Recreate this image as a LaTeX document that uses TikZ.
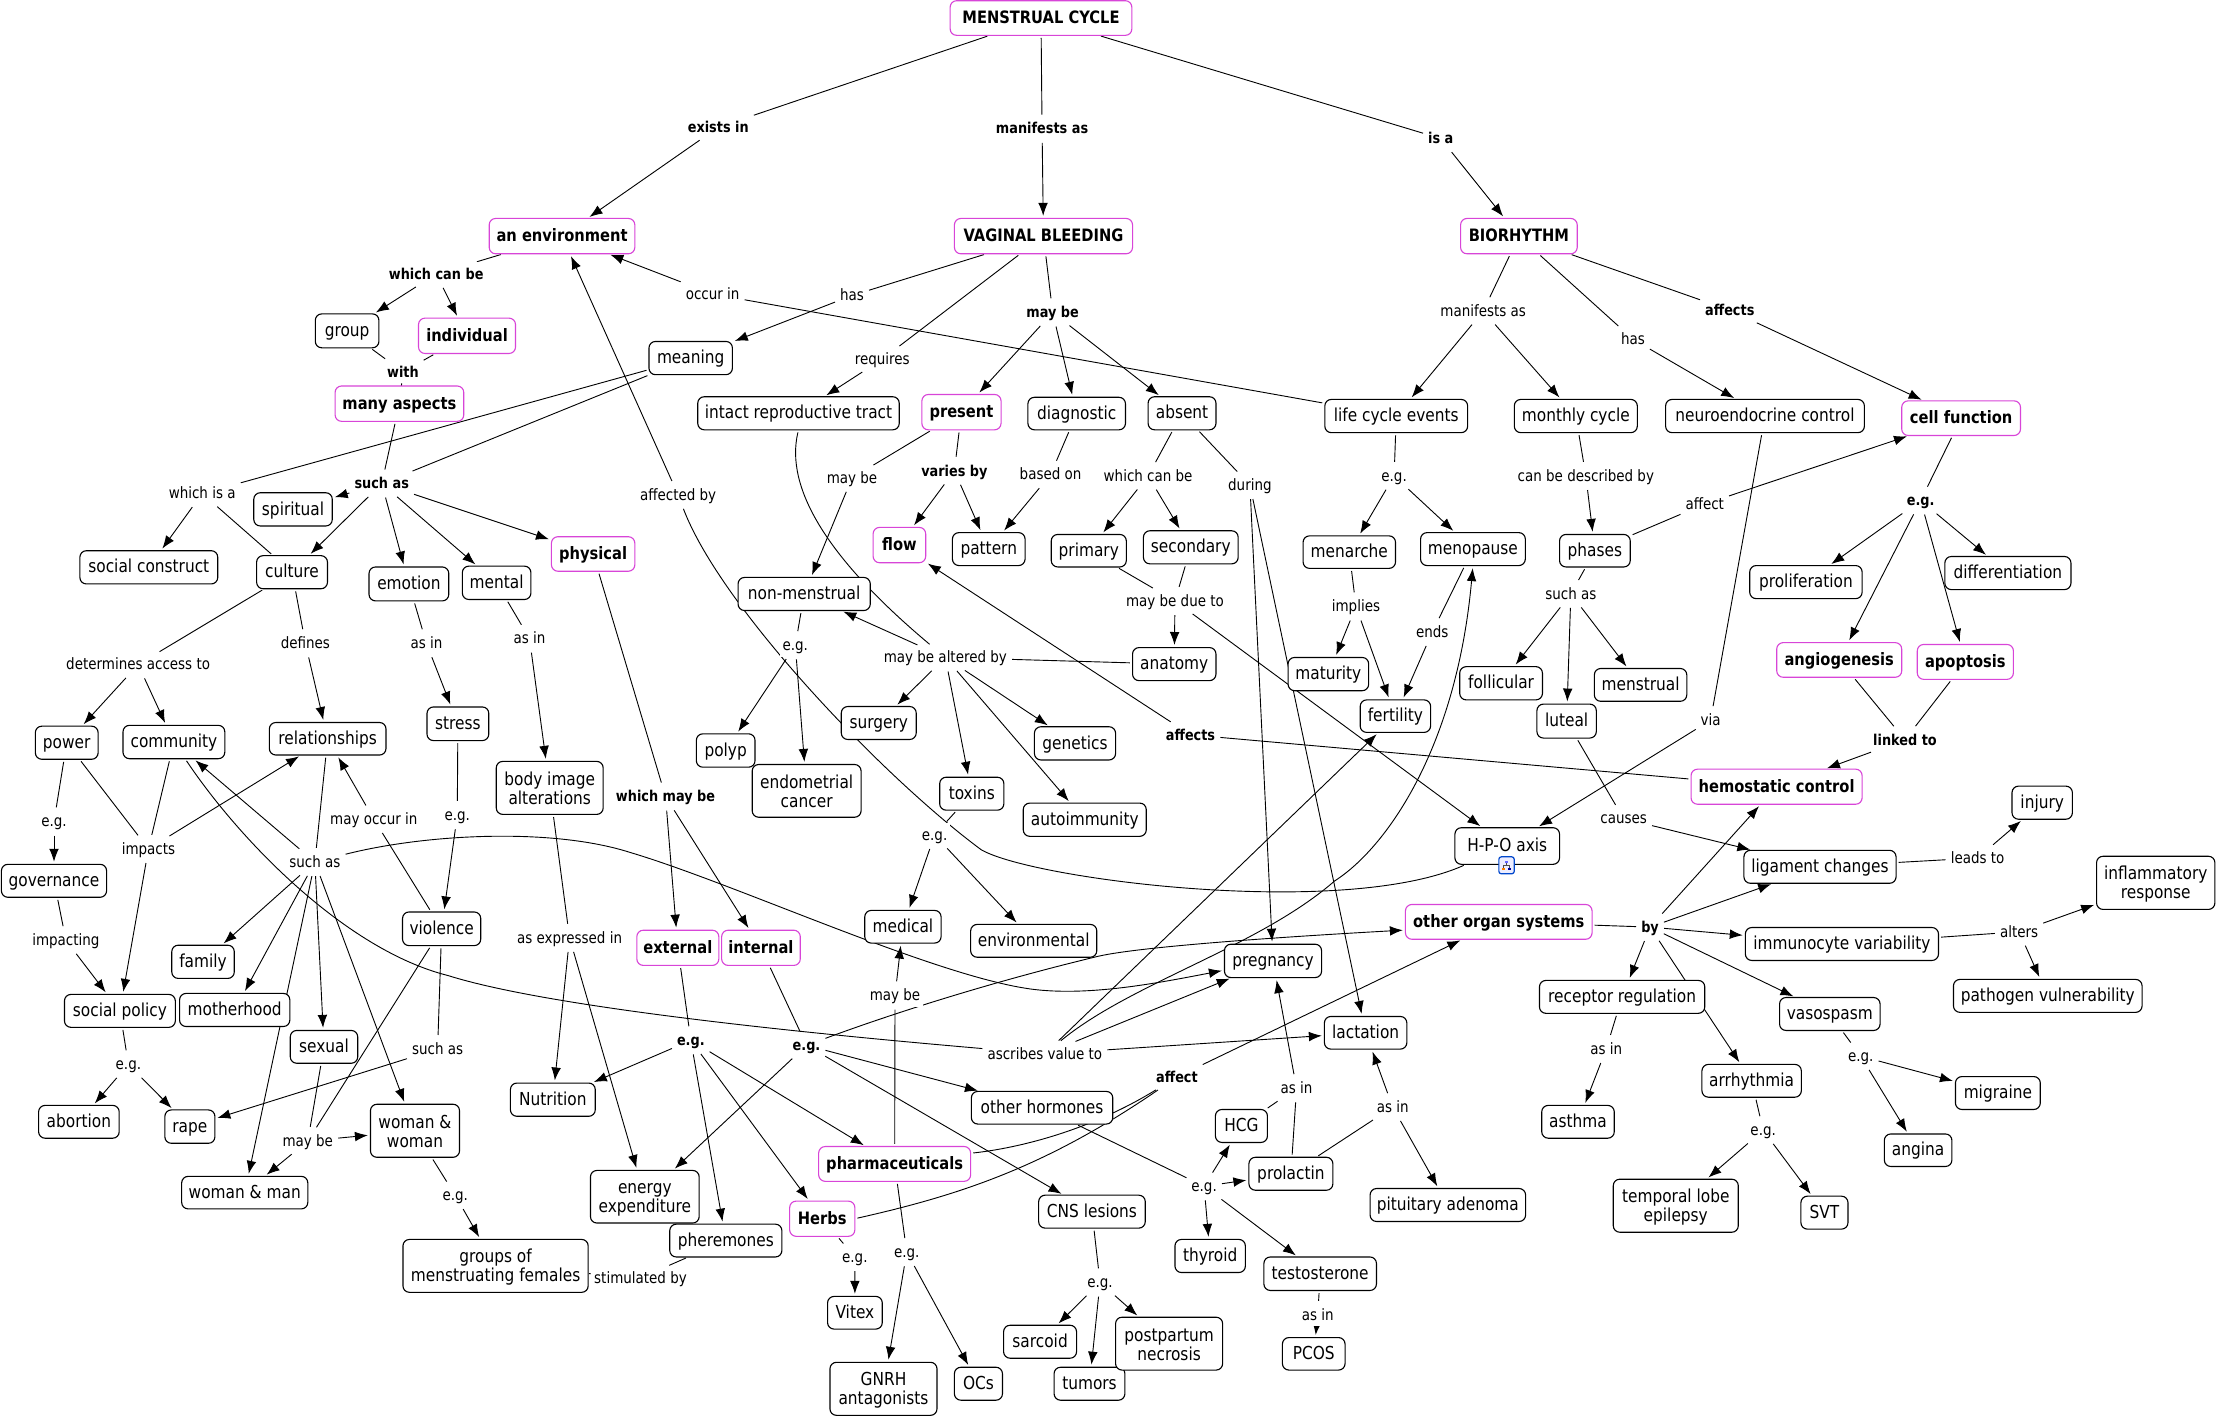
\documentclass[tikz,border=0pt]{standalone}
\usepackage{fontspec}
\setmainfont[FakeStretch=0.86]{DejaVu Sans}
\usetikzlibrary{arrows.meta,backgrounds,calc}
\definecolor{pinkb}{HTML}{D845D8}
\tikzset{
  x=0.7pt,y=-0.7pt,
  cpt/.style={draw=black,line width=0.55pt,fill=white,rounded corners=3.2pt,inner sep=0pt,outer sep=0pt,align=center,font=\fontsize{8.85}{9.4}\selectfont},
  pcpt/.style={cpt,draw=pinkb,font=\fontsize{8.45}{9.4}\selectfont\bfseries},
  lab/.style={fill=white,inner sep=1.3pt,outer sep=0pt,font=\fontsize{7.75}{9}\selectfont},
  blab/.style={lab,font=\fontsize{7.4}{9}\selectfont\bfseries},
  lnk/.style={draw=black,line width=0.45pt,shorten >=1.3pt,shorten <=1.3pt},
  arw/.style={lnk,-{Latex[length=6.4pt,width=4.8pt]}}
}
\newcommand\cb[6]{\node[cpt,minimum width={(#3-#2)*0.7pt},minimum height={(#5-#4)*0.7pt}] (#1) at ({(#2+#3)/2},{(#4+#5)/2}) {\rule[-2pt]{0pt}{9.6pt}#6};}
\newcommand\pb[6]{\node[pcpt,minimum width={(#3-#2)*0.7pt},minimum height={(#5-#4)*0.7pt}] (#1) at ({(#2+#3)/2},{(#4+#5)/2}) {\rule[-2pt]{0pt}{9.6pt}#6};}
\newcommand\lb[4]{\node[lab] (#1) at (#2,#3) {\rule[-1.8pt]{0pt}{8.8pt}#4};}
\newcommand\bl[4]{\node[blab] (#1) at (#2,#3) {\rule[-1.8pt]{0pt}{8.8pt}#4};}
\newcommand\ed[2]{\draw[lnk] (#1) -- (#2);}
\newcommand\ar[2]{\draw[arw] (#1) -- (#2);}
\begin{document}
\begin{tikzpicture}
\useasboundingbox (0,0) rectangle (1568,1003);
% pink concepts
\pb{menstrual}{672}{800.5}{0.5}{25}{MENSTRUAL CYCLE}
\pb{env}{346}{449}{154.5}{179.5}{an environment}
\pb{vaginal}{675}{801}{154.5}{179.5}{VAGINAL BLEEDING}
\pb{bio}{1033}{1115.5}{154.5}{179.5}{BIORHYTHM}
\pb{individual}{296}{364.6}{225}{250}{individual}
\pb{many}{237}{328}{273}{298}{many aspects}
\pb{present}{652}{708}{279}{304}{present}
\pb{cell}{1345}{1429}{283.5}{308}{cell function}
\pb{physical}{390}{449}{379.6}{404}{physical}
\pb{flow}{617.5}{654.7}{373}{398}{flow}
\pb{angio}{1256.6}{1345}{454.5}{479}{angiogenesis}
\pb{apop}{1356}{1424}{455.8}{480.5}{apoptosis}
\pb{external}{450.4}{508.4}{657.9}{682.8}{external}
\pb{internal}{510.4}{566}{657.9}{682.8}{internal}
\pb{pharm}{579}{686.5}{810.9}{835.5}{pharmaceuticals}
\pb{herbs}{558.5}{604.6}{849.5}{874.4}{Herbs}
\pb{hemo}{1196}{1317}{544}{568.8}{hemostatic control}
\pb{orgs}{994}{1126}{639.7}{664.3}{other organ systems}
% plain concepts
\cb{group}{223}{268}{222}{246}{group}
\cb{meaning}{459}{518}{241.5}{265}{meaning}
\cb{intact}{493.5}{636}{280.6}{304}{intact reproductive tract}
\cb{diagnostic}{727}{796}{281}{304}{diagnostic}
\cb{absent}{812}{860}{280.6}{304}{absent}
\cb{life}{937}{1038}{282.5}{306}{life cycle events}
\cb{monthly}{1071}{1158}{282.5}{306}{monthly cycle}
\cb{neuro}{1178}{1318.6}{282.5}{306}{neuroendocrine control}
\cb{spiritual}{179.5}{235}{348.5}{372}{spiritual}
\cb{social}{56.5}{154}{389.5}{413}{social construct}
\cb{culture}{181.5}{231.6}{393}{416.4}{culture}
\cb{emotion}{261}{317.4}{401}{425}{emotion}
\cb{mental}{327}{375.5}{400.4}{424}{mental}
\cb{nonm}{522}{615.5}{408.4}{431.8}{non-menstrual}
\cb{pattern}{673.6}{725}{376.7}{400}{pattern}
\cb{primary}{743.5}{796.6}{378}{401}{primary}
\cb{secondary}{808.7}{875.7}{375.4}{398.8}{secondary}
\cb{menarche}{921.6}{987}{379}{402}{menarche}
\cb{menopause}{1004.7}{1078.8}{376.7}{400}{menopause}
\cb{phases}{1103}{1153}{378}{401}{phases}
\cb{prolif}{1237.5}{1317}{400}{423.4}{proliferation}
\cb{diff}{1375.5}{1464.7}{393.6}{417}{differentiation}
\cb{anatomy}{801}{860}{458}{481.4}{anatomy}
\cb{maturity}{911}{968}{465}{488.5}{maturity}
\cb{follicular}{1032.4}{1090.9}{471.5}{495}{follicular}
\cb{menstr}{1127.6}{1193}{472.8}{496}{menstrual}
\cb{fertility}{962}{1011.8}{495}{518}{fertility}
\cb{luteal}{1087}{1129}{498}{522}{luteal}
\cb{surgery}{595}{648}{499.7}{523}{surgery}
\cb{power}{25}{69.4}{513.6}{537}{power}
\cb{community}{87}{159}{513}{536.6}{community}
\cb{rel}{190.5}{273}{511}{534}{relationships}
\cb{stress}{302}{345.7}{500}{523.8}{stress}
\cb{body}{351}{426.6}{538.5}{576}{body image\\alterations}
\cb{polyp}{492.5}{534}{519}{542.6}{polyp}
\cb{endo}{532}{609}{540.7}{578}{endometrial\\cancer}
\cb{toxins}{664.6}{710}{549.7}{573}{toxins}
\cb{genetics}{731.6}{789}{514}{537.5}{genetics}
\cb{auto}{723.7}{810.7}{568}{591.5}{autoimmunity}
\cb{gov}{1}{75.4}{611.3}{634.6}{governance}
\cb{family}{121.5}{165.7}{668.5}{692}{family}
\cb{policy}{45.6}{124}{703.3}{726.6}{social policy}
\cb{mother}{127}{205}{702.6}{726}{motherhood}
\cb{sexual}{205.3}{253}{728.8}{752}{sexual}
\cb{violence}{284.7}{340}{645}{668.8}{violence}
\cb{medical}{611.6}{665.6}{643.9}{667}{medical}
\cb{environ}{686.5}{775.7}{653.8}{677}{environmental}
\cb{nutrition}{361}{421}{766}{789.5}{Nutrition}
\cb{abortion}{27.3}{84.3}{781.8}{805}{abortion}
\cb{rape}{116.6}{152}{785}{808.6}{rape}
\cb{ww}{262}{325}{781}{818.5}{woman \&\\woman}
\cb{wm}{128.5}{217.7}{832}{855}{woman \& man}
\cb{hormones}{687}{787}{771.9}{795}{other hormones}
\cb{energy}{417.6}{494.5}{827.8}{865}{energy\\expenditure}
\cb{phero}{473.7}{553}{865.8}{889}{pheremones}
\cb{cns}{734.6}{810}{845.3}{868.6}{CNS lesions}
\cb{groups}{285}{416}{876.6}{914}{groups of\\menstruating females}
\cb{vitex}{585.3}{624}{916.9}{940}{Vitex}
\cb{gnrh}{587}{662.7}{963.5}{1001}{GNRH\\antagonists}
\cb{ocs}{675}{709}{967}{990.3}{OCs}
\cb{sarcoid}{709.8}{761.4}{937.3}{960.6}{sarcoid}
\cb{tumors}{745.5}{795.6}{967}{990.3}{tumors}
\cb{post}{789}{864.7}{931.6}{969}{postpartum\\necrosis}
\cb{hpo}{1029}{1103}{585.4}{611.3}{H-P-O axis}
\cb{injury}{1423}{1465.7}{556}{579.4}{injury}
\cb{lig}{1233.4}{1341}{601.4}{624.7}{ligament changes}
\cb{inflam}{1482.8}{1566.5}{605.6}{643.2}{inflammatory\\response}
\cb{immuno}{1234.4}{1371}{656}{679.3}{immunocyte variability}
\cb{receptor}{1088.8}{1205.7}{693.4}{716.7}{receptor regulation}
\cb{vaso}{1258.6}{1329.7}{705.5}{728.8}{vasospasm}
\cb{pathogen}{1381.6}{1515}{692.7}{716}{pathogen vulnerability}
\cb{preg}{866}{934.7}{667.8}{691.4}{pregnancy}
\cb{lact}{936.7}{995}{718.9}{742}{lactation}
\cb{arrhy}{1203.7}{1274}{752.8}{776}{arrhythmia}
\cb{migraine}{1383}{1443}{761.4}{784.7}{migraine}
\cb{asthma}{1090.4}{1141.7}{781.8}{805}{asthma}
\cb{angina}{1332.7}{1380.5}{802}{825}{angina}
\cb{hcg}{859.6}{896.4}{784.7}{808}{HCG}
\cb{prolactin}{883.3}{942.7}{818.5}{841.8}{prolactin}
\cb{pitu}{969}{1079}{840.6}{863.9}{pituitary adenoma}
\cb{temporal}{1141}{1229.4}{834}{871.5}{temporal lobe\\epilepsy}
\cb{svt}{1273.7}{1307}{846}{869.3}{SVT}
\cb{thyroid}{831}{880.8}{876.6}{900}{thyroid}
\cb{testo}{893.9}{973.5}{889}{912.7}{testosterone}
\cb{pcos}{907}{951.3}{946}{969}{PCOS}
% linking phrases
\bl{exists}{508}{90}{exists in}
\bl{manif}{737}{91}{manifests as}
\bl{isa}{1019}{98}{is a}
\bl{whichcan}{308.5}{193.8}{which can be}
\bl{with}{285}{263}{with}
\lb{hasm}{602.6}{209}{has}
\lb{occur}{504}{208}{occur in}
\lb{requires}{624}{254}{requires}
\bl{maybev}{744.5}{221}{may be}
\lb{manifb}{1049}{220}{manifests as}
\lb{hasb}{1155}{240}{has}
\bl{affectsb}{1223.4}{219.4}{affects}
\lb{eglife}{986}{336.6}{e.g.}
\lb{whichabs}{812}{336.6}{which can be}
\lb{during}{884}{343}{during}
\lb{based}{743}{335.7}{based on}
\bl{varies}{675}{333}{varies by}
\lb{maybep}{602.6}{338}{may be}
\lb{described}{1121.6}{336.6}{can be described by}
\lb{affectp}{1205.7}{356.5}{affect}
\bl{egcell}{1358.4}{354}{e.g.}
\lb{whichisa}{143}{349}{which is a}
\bl{suchm}{270}{342}{such as}
\lb{affby}{479.6}{350}{affected by}
\lb{implies}{959}{429}{implies}
\lb{duet}{831}{425}{may be due to}
\lb{suchp}{1111}{420}{such as}
\lb{ends}{1013}{447}{ends}
\lb{altered}{668.6}{465}{may be altered by}
\lb{egnon}{562.5}{456.4}{e.g.}
\lb{determ}{97.7}{470}{determines access to}
\lb{defines}{216}{455}{defines}
\lb{asemo}{301.6}{455}{as in}
\lb{asment}{374.5}{451.6}{as in}
\bl{linked}{1347.3}{523.2}{linked to}
\bl{affectsh}{842}{519.7}{affects}
\lb{via}{1209.8}{509.4}{via}
\lb{causes}{1148.3}{579}{causes}
\lb{leads}{1398.7}{606.8}{leads to}
\lb{egtox}{661}{590.5}{e.g.}
\bl{whichmay}{470.7}{563.4}{which may be}
\lb{expressed}{402.8}{663.3}{as expressed in}
\lb{egstress}{323.4}{576.5}{e.g.}
\lb{occurs}{264.4}{579.4}{may occur in}
\lb{suchrel}{222.7}{609.7}{such as}
\lb{egpower}{38.2}{581}{e.g.}
\lb{impacts}{105}{600.4}{impacts}
\lb{impacting}{46.6}{665}{impacting}
\lb{maybeph}{633}{704}{may be}
\bl{egext}{488.6}{735.8}{e.g.}
\bl{egint}{570.4}{739.3}{e.g.}
\lb{suchvio}{309.5}{742}{such as}
\lb{egpol}{90.8}{752.8}{e.g.}
\lb{maybesex}{217.7}{807}{may be}
\lb{egww}{322}{845.4}{e.g.}
\lb{stim}{453}{903.8}{stimulated by}
\lb{egherb}{604.6}{889}{e.g.}
\lb{egpharm}{641.3}{885.6}{e.g.}
\lb{egcns}{778}{907}{e.g.}
\lb{ascribes}{739}{745.4}{ascribes value to}
\bl{affecto}{832.4}{761.7}{affect}
\lb{aspreg}{917}{769.7}{as in}
\lb{aslact}{985}{783}{as in}
\bl{by}{1167}{655.7}{by}
\lb{alters}{1428}{659}{alters}
\lb{asasth}{1136}{741.9}{as in}
\lb{egvaso}{1316}{747}{e.g.}
\lb{egarr}{1247}{799.4}{e.g.}
\lb{eghorm}{851.6}{839}{e.g.}
\lb{astest}{932}{930}{as in}
% small map icon under H-P-O axis
\node[draw=blue!65!cyan!80!black,fill=blue!7,rounded corners=1.2pt,line width=0.6pt,minimum width=7.6pt,minimum height=8.4pt,inner sep=0pt] (icon) at (1065.5,612) {};
\draw[line width=0.4pt,black!70] ($(icon)+(0,-2.5)$) -- ($(icon)+(0,0)$) ($(icon)+(-2,2)$) -- ($(icon)+(-2,0)$) -- ($(icon)+(2,0)$) -- ($(icon)+(2,2)$);
\fill[blue!60] ($(icon)+(-1,-3.4)$) rectangle ($(icon)+(1,-1.8)$);
\fill[orange] ($(icon)+(-3,1.6)$) rectangle ($(icon)+(-1,3.2)$);
\fill[blue!60!black] ($(icon)+(1,1.6)$) rectangle ($(icon)+(3,3.2)$);
\begin{pgfonlayer}{background}
\fill[white] (0,0) rectangle (1568,1003);
\ed{menstrual}{exists}\ar{exists}{env}
\ed{menstrual}{manif}\ar{manif}{vaginal}
\ed{menstrual}{isa}\ar{isa}{bio}
\ed{env}{whichcan}\ar{whichcan}{group}\ar{whichcan}{individual}
\ed{group}{with}\ed{individual}{with}\ed{with}{many}
\ed{many}{suchm}\ed{meaning}{suchm}
\ar{suchm}{spiritual}\ar{suchm}{culture}\ar{suchm}{emotion}\ar{suchm}{mental}\ar{suchm}{physical}
\ed{meaning}{whichisa}\ed{culture}{whichisa}\ar{whichisa}{social}
\ed{vaginal}{hasm}\ar{hasm}{meaning}
\ed{vaginal}{requires}\ar{requires}{intact}
\ed{vaginal}{maybev}\ar{maybev}{present}\ar{maybev}{diagnostic}\ar{maybev}{absent}
\ed{life}{occur}\ar{occur}{env}
\ed{bio}{manifb}\ar{manifb}{life}\ar{manifb}{monthly}
\ed{bio}{hasb}\ar{hasb}{neuro}
\ed{bio}{affectsb}\ar{affectsb}{cell}
\ed{life}{eglife}\ar{eglife}{menarche}\ar{eglife}{menopause}
\ed{monthly}{described}\ar{described}{phases}
\ed{phases}{affectp}\ar{affectp}{cell}
\ed{cell}{egcell}\ar{egcell}{prolif}\ar{egcell}{angio}\ar{egcell}{apop}\ar{egcell}{diff}
\ed{phases}{suchp}\ar{suchp}{follicular}\ar{suchp}{luteal}\ar{suchp}{menstr}
\ed{angio}{linked}\ed{apop}{linked}\ar{linked}{hemo}
\ed{hemo}{affectsh}\ar{affectsh}{flow}
\ed{neuro}{via}\ar{via}{hpo}
\ed{luteal}{causes}\ar{causes}{lig}
\ed{lig}{leads}\ar{leads}{injury}
\draw[lnk] (hpo) .. controls (950,650) and (730,622) .. (694,601) .. controls (625,550) and (510,430) .. (affby);
\ar{affby}{env}
\draw[lnk] (intact.south) .. controls (555,345) and (585,395) .. (altered);
\ar{altered}{nonm}\ar{altered}{surgery}\ar{altered}{toxins}\ar{altered}{auto}\ar{altered}{genetics}
\ed{anatomy}{altered}
\ed{present}{maybep}\ar{maybep}{nonm}
\ed{present}{varies}\ar{varies}{flow}\ar{varies}{pattern}
\ed{diagnostic}{based}\ar{based}{pattern}
\ed{absent}{whichabs}\ar{whichabs}{primary}\ar{whichabs}{secondary}
\ed{absent}{during}\ar{during}{preg}\ar{during}{lact}
\ed{primary}{duet}\ed{secondary}{duet}\ar{duet}{anatomy}\ar{duet}{hpo}
\ed{nonm}{egnon}\ar{egnon}{polyp}\ar{egnon}{endo}
\ed{menarche}{implies}\ar{implies}{maturity}\ar{implies}{fertility}
\ed{menopause}{ends}\ar{ends}{fertility}
\ed{culture}{determ}\ar{determ}{power}\ar{determ}{community}
\ed{culture}{defines}\ar{defines}{rel}
\ed{emotion}{asemo}\ar{asemo}{stress}
\ed{mental}{asment}\ar{asment}{body}
\ed{stress}{egstress}\ar{egstress}{violence}
\ed{body}{expressed}\ar{expressed}{nutrition}\ar{expressed}{energy}
\ed{physical}{whichmay}\ar{whichmay}{external}\ar{whichmay}{internal}
\ed{external}{egext}\ar{egext}{nutrition}\ar{egext}{phero}\ar{egext}{herbs}\ar{egext}{pharm}
\ed{internal}{egint}\ar{egint}{energy}\ar{egint}{hormones}\ar{egint}{cns}
\draw[arw] (egint) .. controls (650,710) and (720,690) .. (774,677) .. controls (800,670) and (900,663) .. (orgs.185);
\ed{toxins}{egtox}\ar{egtox}{medical}\ar{egtox}{environ}
\ed{pharm}{maybeph}\ar{maybeph}{medical}
\ed{pharm}{egpharm}\ar{egpharm}{gnrh}\ar{egpharm}{ocs}
\ed{herbs}{egherb}\ar{egherb}{vitex}
\draw[lnk] (pharm.8) .. controls (720,812) and (770,800) .. (affecto);
\draw[lnk] (herbs.east) .. controls (680,845) and (740,825) .. (affecto);
\ar{affecto}{orgs}
\ed{power}{egpower}\ar{egpower}{gov}
\ed{gov}{impacting}\ar{impacting}{policy}
\ed{power}{impacts}\ed{community}{impacts}\ar{impacts}{policy}\ar{impacts}{rel}
\ed{rel}{suchrel}\ar{suchrel}{family}\ar{suchrel}{mother}\ar{suchrel}{sexual}\ar{suchrel}{wm}\ar{suchrel}{ww}\ar{suchrel}{community}
\draw[arw] (suchrel) .. controls (300,590) and (390,585) .. (446,603) .. controls (520,625) and (660,690) .. (729,699.5) .. controls (770,705) and (820,695) .. (preg);
\draw[lnk] (community) .. controls (170,595) and (245,672) .. (317,690) .. controls (387,712) and (560,730) .. (ascribes);
\ar{ascribes}{fertility}\ar{ascribes}{preg}\ar{ascribes}{lact}
\draw[arw] (ascribes) .. controls (800,695) and (890,670) .. (944,623) .. controls (980,600) and (1030,530) .. (menopause.south);
\ed{violence}{occurs}\ar{occurs}{rel}
\ed{violence}{suchvio}\ar{suchvio}{rape}
\ed{violence}{maybesex}\ed{sexual}{maybesex}\ar{maybesex}{wm}\ar{maybesex}{ww}
\ed{ww}{egww}\ar{egww}{groups}
\ed{policy}{egpol}\ar{egpol}{abortion}\ar{egpol}{rape}
\ed{phero}{stim}\ed{stim}{groups}
\ed{orgs}{by}\ar{by}{hemo}\ar{by}{lig}\ar{by}{immuno}\ar{by}{vaso}\ar{by}{arrhy}\ar{by}{receptor}
\ed{immuno}{alters}\ar{alters}{inflam}\ar{alters}{pathogen}
\ed{receptor}{asasth}\ar{asasth}{asthma}
\ed{vaso}{egvaso}\ar{egvaso}{migraine}\ar{egvaso}{angina}
\ed{arrhy}{egarr}\ar{egarr}{temporal}\ar{egarr}{svt}
\ed{hormones}{eghorm}\ar{eghorm}{hcg}\ar{eghorm}{prolactin}\ar{eghorm}{thyroid}\ar{eghorm}{testo}
\ed{prolactin}{aspreg}\ed{hcg}{aspreg}\ar{aspreg}{preg}
\ed{prolactin}{aslact}\ar{aslact}{lact}\ar{aslact}{pitu}
\ed{testo}{astest}\ar{astest}{pcos}
\ed{cns}{egcns}\ar{egcns}{sarcoid}\ar{egcns}{tumors}\ar{egcns}{post}
\end{pgfonlayer}
\end{tikzpicture}
\end{document}
